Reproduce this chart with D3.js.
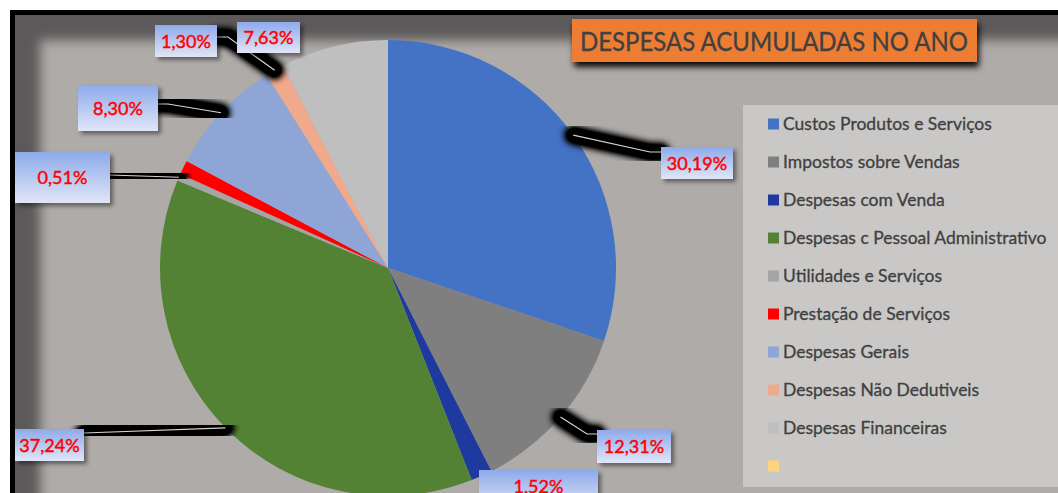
<!DOCTYPE html>
<html>
<head>
<meta charset="utf-8">
<script src="https://cdn.jsdelivr.net/npm/d3@7"></script>
<style>
  body { margin: 0; background: #fff; }
  svg { display: block; }
</style>
</head>
<body>
<svg id="chart"></svg>
<script>
// data
const categories = [
  "Custos Produtos e Serviços",
  "Impostos sobre Vendas",
  "Despesas com Venda",
  "Despesas c Pessoal Administrativo",
  "Utilidades e Serviços",
  "Prestação de Serviços",
  "Despesas Gerais",
  "Despesas Não Dedutiveis",
  "Despesas Financeiras",
  ""
];
const values = [30.19, 12.31, 1.52, 37.24, 0.51, 1.00, 8.30, 1.30, 7.63, 0];
const colors = ["#4472c4", "#7f7f7f", "#1f3a9e", "#548235", "#a5a5a5",
                "#ff0000", "#8fa5d6", "#f0a98a", "#bfbfbf", "#ffd47f"];
const title = "DESPESAS ACUMULADAS NO ANO";

// label placement (slice index, box, leader bend)
const labelLayout = [
  { i: 0, box: [661, 147, 72, 32], bend: [650, 152], end: [661, 152] },
  { i: 1, box: [597, 430, 74, 33], bend: [587, 434], end: [597, 434] },
  { i: 2, box: [479, 470, 119, 40], bend: null, end: null },
  { i: 3, box: [15, 429, 69, 32], bend: [84, 433], end: [84, 433] },
  { i: 4, box: [15, 152, 95, 51], bend: [110, 175], end: [110, 175] },
  { i: 6, box: [78, 85, 80, 46], bend: [168, 104], end: [158, 104] },
  { i: 7, box: [155, 25, 62, 32], bend: [228, 37], end: [217, 37] },
  { i: 8, box: [237, 22, 63, 31], bend: null, end: null }
];

const W = 1058, H = 493;
const cx = 388, cy = 268, R = 228;
const font = "Lato, 'Open Sans', sans-serif";

const svg = d3.select("#chart").attr("width", W).attr("height", H);
const defs = svg.append("defs");

defs.append("filter").attr("id", "bgBlur")
  .attr("x", "-10%").attr("y", "-10%").attr("width", "120%").attr("height", "120%")
  .append("feGaussianBlur").attr("stdDeviation", 6);

// leader glow: blur then boost alpha so the core stays solid black
const glow = defs.append("filter").attr("id", "glow")
  .attr("x", "-50%").attr("y", "-50%").attr("width", "200%").attr("height", "200%");
glow.append("feGaussianBlur").attr("stdDeviation", 3.5).attr("result", "b");
glow.append("feComponentTransfer").attr("in", "b")
  .append("feFuncA").attr("type", "linear").attr("slope", 1.6);

const ds = defs.append("filter").attr("id", "boxShadow")
  .attr("x", "-20%").attr("y", "-20%").attr("width", "150%").attr("height", "160%");
ds.append("feDropShadow").attr("dx", 3).attr("dy", 3).attr("stdDeviation", 2)
  .attr("flood-color", "#000").attr("flood-opacity", 0.45);

const ts = defs.append("filter").attr("id", "titleShadow")
  .attr("x", "-10%").attr("y", "-20%").attr("width", "120%").attr("height", "170%");
ts.append("feDropShadow").attr("dx", 2).attr("dy", 5).attr("stdDeviation", 3)
  .attr("flood-color", "#000").attr("flood-opacity", 0.95);

const grad = defs.append("linearGradient").attr("id", "lblGrad")
  .attr("x1", 0).attr("y1", 0).attr("x2", 0).attr("y2", 1);
grad.append("stop").attr("offset", "0%").attr("stop-color", "#8daaea");
grad.append("stop").attr("offset", "100%").attr("stop-color", "#e1e6f7");

// chart area
svg.append("rect")
  .attr("x", 12.5).attr("y", 12.5).attr("width", 1200).attr("height", 600)
  .attr("fill", "#5b5959").attr("stroke", "#000").attr("stroke-width", 5);

svg.append("rect")
  .attr("x", 40).attr("y", 40).attr("width", 1200).attr("height", 600)
  .attr("fill", "#afaba9").attr("filter", "url(#bgBlur)");

// pie
const pie = d3.pie().sort(null).value(d => d);
const arcs = pie(values);
const arc = d3.arc().innerRadius(0).outerRadius(R);
const edgeArc = d3.arc().innerRadius(R).outerRadius(R);

const g = svg.append("g").attr("transform", `translate(${cx},${cy})`);
g.selectAll("path.slice")
  .data(arcs).enter()
  .append("path")
  .attr("class", "slice")
  .attr("d", arc)
  .attr("fill", (d, i) => colors[i]);

// leader lines
const fmt = d3.formatLocale({ decimal: ",", thousands: ".", grouping: [3], currency: ["R$", ""] }).format(".2%");

const leaders = labelLayout.filter(l => l.bend);
const leaderPath = l => {
  const p = edgeArc.centroid(arcs[l.i]);
  const start = [cx + p[0], cy + p[1]];
  return d3.line()([start, l.bend, l.end]);
};

svg.selectAll(".glow")
  .data(leaders).enter()
  .append("path")
  .attr("class", "glow")
  .attr("d", leaderPath)
  .attr("fill", "none")
  .attr("stroke", "#000")
  .attr("stroke-width", 17)
  .attr("stroke-linecap", "round")
  .attr("stroke-linejoin", "round")
  .attr("filter", "url(#glow)");

svg.selectAll(".leader")
  .data(leaders).enter()
  .append("path")
  .attr("class", "leader")
  .attr("d", leaderPath)
  .attr("fill", "none")
  .attr("stroke", "#d4d4d4")
  .attr("stroke-width", 1.2);

// label boxes
const lbl = svg.selectAll(".lbl")
  .data(labelLayout).enter()
  .append("g")
  .attr("class", "lbl");

lbl.append("rect")
  .attr("x", d => d.box[0]).attr("y", d => d.box[1])
  .attr("width", d => d.box[2]).attr("height", d => d.box[3])
  .attr("fill", "url(#lblGrad)")
  .attr("filter", "url(#boxShadow)");

lbl.append("text")
  .attr("x", d => d.box[0] + d.box[2] / 2)
  .attr("y", d => d.i === 2 ? d.box[1] + 23 : d.box[1] + d.box[3] / 2 + 6.5)
  .attr("text-anchor", "middle")
  .attr("font-family", font)
  .attr("font-size", 18)
  .attr("fill", "#ff0000")
  .attr("stroke", "#ff0000")
  .attr("stroke-width", 0.45)
  .text(d => fmt(values[d.i] / 100));

// title
svg.append("rect")
  .attr("x", 572).attr("y", 19).attr("width", 405).attr("height", 43)
  .attr("fill", "#ed7d31")
  .attr("filter", "url(#titleShadow)");
svg.append("text")
  .attr("x", 580).attr("y", 51)
  .attr("font-family", font)
  .attr("font-size", 26.5)
  .attr("fill", "#404040")
  .attr("stroke", "#404040")
  .attr("stroke-width", 0.3)
  .attr("textLength", 388)
  .attr("lengthAdjust", "spacingAndGlyphs")
  .text(title);

// legend
svg.append("rect")
  .attr("x", 743).attr("y", 105).attr("width", 400).attr("height", 382)
  .attr("fill", "#c9c8c7");

const ly = d3.scalePoint().domain(d3.range(categories.length)).range([124, 466]);
const leg = svg.selectAll(".leg")
  .data(categories).enter()
  .append("g")
  .attr("class", "leg")
  .attr("transform", (d, i) => `translate(768,${ly(i)})`);
leg.append("rect")
  .attr("x", 0).attr("y", -5.5).attr("width", 11).attr("height", 11)
  .attr("fill", (d, i) => colors[i]);
leg.append("text")
  .attr("x", 15).attr("y", 6)
  .attr("font-family", font)
  .attr("font-size", 17.5)
  .attr("fill", "#404040")
  .attr("stroke", "#404040")
  .attr("stroke-width", 0.3)
  .text(d => d);
</script>
</body>
</html>
